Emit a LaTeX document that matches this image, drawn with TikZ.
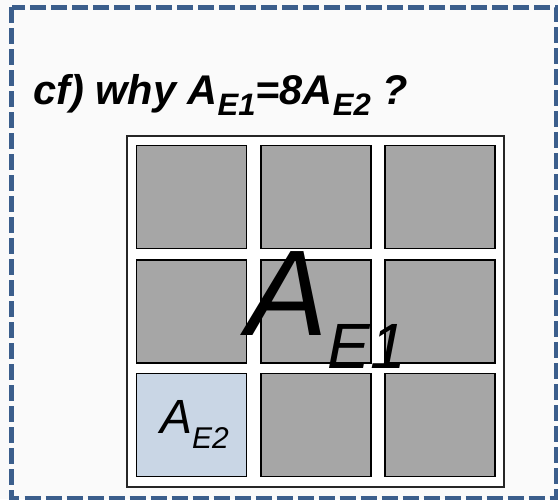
\documentclass[tikz,border=0pt]{standalone}
\usepackage{fontspec}
\setmainfont{Liberation Sans}
\usetikzlibrary{positioning}

\definecolor{frameblue}{RGB}{59,94,140}
\definecolor{cellgray}{RGB}{166,166,166}
\definecolor{cellblue}{RGB}{201,214,229}
\definecolor{paper}{RGB}{250,250,250}

\begin{document}
\begin{tikzpicture}[x=1pt, y=-1pt,
    cell/.style={draw=black, line width=1.5pt, fill=cellgray,
      minimum width=110pt, minimum height=103pt, inner sep=0pt},
    label/.style={anchor=base west, inner sep=0pt}]
  % Canvas
  \useasboundingbox[fill=paper] (0,0) rectangle (558,499);
  % Dashed frame
  \draw[frameblue, line width=5pt, dash pattern=on 16pt off 5pt]
    (11.5,7) rectangle (556,498);
  % Board
  \node[draw=black!85, line width=1.5pt, fill=white, inner sep=0pt,
    minimum width=377pt, minimum height=351pt] (board) at (315.5,311.5) {};
  % 3x3 cells, the lower left one is A_E2
  \foreach \r/\y in {1/197, 2/311.5, 3/425}
    \foreach \c/\x in {1/191.5, 2/316, 3/440} {
      \ifnum\r\c=31 \def\cellfill{cellblue}\else\def\cellfill{cellgray}\fi
      \node[cell, fill=\cellfill] (cell-\r-\c) at (\x,\y) {};
    }
  % Question
  \node[label] (question) at (33,104) {\bfseries\itshape\fontsize{41.5}{41.5}\selectfont
    cf) why A\raisebox{-11pt}{\fontsize{31}{31}\selectfont E1}=8A\raisebox{-11pt}{\fontsize{31}{31}\selectfont E2} ?};
  % Area labels
  \node[label] (ae1) at (246,335) {\itshape\fontsize{122}{122}\selectfont
    A\raisebox{-33pt}{\fontsize{64}{64}\selectfont E1}};
  \node[label] (ae2) at (160,433) {\itshape\fontsize{48}{48}\selectfont
    A\raisebox{-15pt}{\fontsize{30}{30}\selectfont E2}};
\end{tikzpicture}
\end{document}
